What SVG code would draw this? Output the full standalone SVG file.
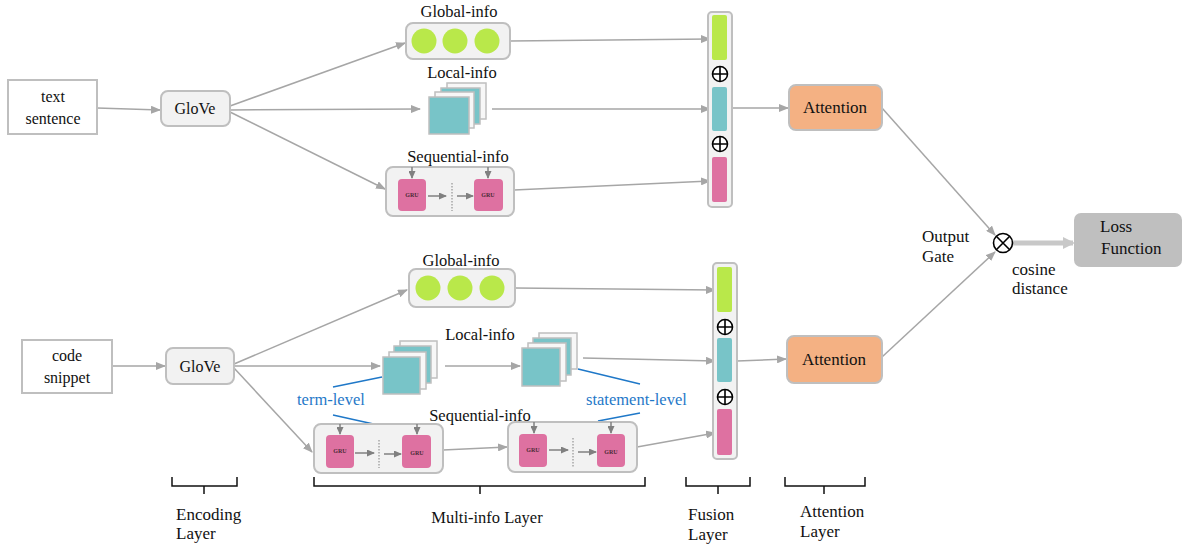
<svg xmlns="http://www.w3.org/2000/svg" width="1183" height="547" viewBox="0 0 1183 547" font-family="'Liberation Serif', 'DejaVu Serif', serif">
<defs>
<marker id="ah" markerUnits="userSpaceOnUse" markerWidth="10" markerHeight="8" refX="9" refY="4" orient="auto"><path d="M0,0 L10,4 L0,8 z" fill="#a6a6a6"/></marker>
<marker id="ahd" markerUnits="userSpaceOnUse" markerWidth="8" markerHeight="7" refX="7" refY="3.5" orient="auto"><path d="M0,0 L8,3.5 L0,7 z" fill="#808080"/></marker>
<marker id="ahb" markerUnits="userSpaceOnUse" markerWidth="12" markerHeight="12" refX="10" refY="6" orient="auto"><path d="M0,0 L12,6 L0,12 z" fill="#c8c8c8"/></marker>
</defs>
<style>
text{font-family:'Liberation Serif','DejaVu Serif',serif;fill:#111}
.box{fill:#f2f2f2;stroke:#bfbfbf;stroke-width:2}
.in{fill:#fff;stroke:#bfbfbf;stroke-width:2}
.con{stroke:#a6a6a6;stroke-width:1.5;fill:none}
.arr{marker-end:url(#ah)}
.g{fill:#b9e84a}
.t{fill:#78c4c8;stroke:#bfbfbf;stroke-width:1.5}
.w{fill:#f7f7f7;stroke:#bfbfbf;stroke-width:1.5}
.gru{fill:#de71a1}
.grut{font-size:6px;font-weight:bold;fill:#4a2a35;text-anchor:middle}
.dn{stroke:#808080;stroke-width:1.5;marker-end:url(#ahd)}
.dot{stroke:#808080;stroke-width:1;stroke-dasharray:1.5,1.5}
.lbl{font-size:16.5px;text-anchor:middle}
.blue{stroke:#1f78c8;stroke-width:1.5;fill:none}
.bt{fill:#1f78c8;font-size:16.5px}
.fb{fill:#f2f2f2;stroke:#bfbfbf;stroke-width:2}
.att{fill:#f4b183;stroke:#bfbfbf;stroke-width:2}
.brace{stroke:#111;stroke-width:1.5;fill:none}
.op{stroke:#000;stroke-width:1.6;fill:#fff}
.big{font-size:17px}
.inp{font-size:16px;text-anchor:middle}
</style>

<g id="connectors">
<line class="con arr" x1="97" y1="108" x2="160" y2="110"/>
<line class="con arr" x1="230" y1="106" x2="405" y2="43"/>
<line class="con arr" x1="230" y1="110" x2="420" y2="109"/>
<line class="con arr" x1="230" y1="112" x2="385" y2="189"/>
<line class="con arr" x1="510" y1="41" x2="710" y2="39"/>
<line class="con arr" x1="492" y1="109" x2="710" y2="109"/>
<line class="con arr" x1="514" y1="190" x2="710" y2="181"/>
<line class="con arr" x1="732" y1="108" x2="788" y2="108"/>
<line class="con arr" x1="882" y1="108" x2="995" y2="235"/>
<line class="con arr" x1="113" y1="366" x2="165" y2="366"/>
<line class="con arr" x1="234" y1="364" x2="407" y2="290"/>
<line class="con arr" x1="234" y1="366" x2="380" y2="366"/>
<line class="con arr" x1="234" y1="368" x2="312" y2="452"/>
<line class="con arr" x1="445" y1="366" x2="520" y2="366"/>
<line class="con arr" x1="515" y1="288" x2="715" y2="290"/>
<line class="con arr" x1="583" y1="358" x2="715" y2="361"/>
<line class="con arr" x1="443" y1="450" x2="507" y2="447"/>
<line class="con arr" x1="637" y1="447" x2="715" y2="433"/>
<line class="con arr" x1="737" y1="361" x2="786" y2="359"/>
<line class="con arr" x1="882" y1="357" x2="995" y2="252"/>
<line x1="1013" y1="243" x2="1073" y2="243" stroke="#c8c8c8" stroke-width="5" marker-end="url(#ahb)"/>
</g>

<g id="text-sentence"><rect class="in" x="8" y="80" width="89" height="54"/><text class="inp" x="53" y="102">text</text><text class="inp" x="53" y="124">sentence</text></g>
<g id="glove-top"><rect class="box" x="161" y="91" width="69" height="35" rx="7"/><text class="inp" x="195" y="114">GloVe</text></g>

<g id="global-top"><text class="lbl" x="459" y="17">Global-info</text><rect class="box" x="406" y="23" width="104" height="36" rx="7"/><circle class="g" cx="424" cy="41" r="12.5"/><circle class="g" cx="455" cy="41" r="12.5"/><circle class="g" cx="487" cy="41" r="12.5"/></g>

<g id="local-top"><text class="lbl" x="462" y="78">Local-info</text>
<rect class="w" x="447" y="83" width="39" height="36"/><rect class="t" x="441" y="88" width="39" height="36"/><rect class="w" x="435" y="92" width="39" height="36"/><rect class="t" x="429" y="97" width="40" height="37"/></g>

<g id="seq-top"><text class="lbl" x="458" y="162">Sequential-info</text><rect class="box" x="386" y="167" width="128" height="49" rx="7"/>
<rect class="gru" x="398" y="179" width="28" height="32" rx="4"/><text class="grut" x="412" y="197">GRU</text>
<rect class="gru" x="474" y="179" width="29" height="32" rx="4"/><text class="grut" x="488" y="197">GRU</text>
<line class="dn" x1="412" y1="167" x2="412" y2="178"/><line class="dn" x1="488" y1="167" x2="488" y2="178"/>
<line class="dn" x1="428" y1="196" x2="446" y2="196"/><line class="dot" x1="452" y1="183" x2="452" y2="211"/><line class="dn" x1="457" y1="196" x2="473" y2="196"/></g>

<g id="fusion-top"><rect class="fb" x="708" y="12" width="24" height="195" rx="4"/><rect class="g" x="712" y="15" width="15" height="45" rx="2"/><rect fill="#78c4c8" x="712" y="87" width="15" height="44" rx="2"/><rect class="gru" x="712" y="157" width="15" height="45" rx="2"/>
<circle class="op" cx="720" cy="74" r="7.5"/><path d="M720,66.5 V81.5 M712.5,74 H727.5" stroke="#000" stroke-width="1.6"/>
<circle class="op" cx="720" cy="144" r="7.5"/><path d="M720,136.5 V151.5 M712.5,144 H727.5" stroke="#000" stroke-width="1.6"/></g>

<g id="attention-top"><rect class="att" x="789" y="85" width="93" height="45" rx="7"/><text class="big" x="835" y="113" text-anchor="middle">Attention</text></g>

<g id="gate"><circle class="op" cx="1003" cy="243" r="9.5"/><path d="M996.3,236.3 L1009.7,249.7 M1009.7,236.3 L996.3,249.7" stroke="#000" stroke-width="1.6"/>
<text class="big" x="922" y="242">Output</text><text class="big" x="922" y="262">Gate</text>
<text class="big" x="1012" y="275">cosine</text><text class="big" x="1012" y="294">distance</text></g>

<g id="loss"><rect x="1074" y="213" width="108" height="54" rx="7" fill="#bfbfbf"/><text class="big" x="1100" y="232">Loss</text><text class="big" x="1101" y="254">Function</text></g>

<g id="code-snippet"><rect class="in" x="22" y="340" width="90" height="53"/><text class="inp" x="67" y="361">code</text><text class="inp" x="67" y="383">snippet</text></g>
<g id="glove-bottom"><rect class="box" x="166" y="348" width="68" height="36" rx="7"/><text class="inp" x="200" y="372">GloVe</text></g>

<g id="global-bottom"><text class="lbl" x="461" y="266">Global-info</text><rect class="box" x="409" y="269" width="106" height="38" rx="7"/><circle class="g" cx="428" cy="288" r="12.5"/><circle class="g" cx="460" cy="288" r="12.5"/><circle class="g" cx="492" cy="288" r="12.5"/></g>

<g id="local-bottom-1"><rect class="w" x="400" y="341" width="37" height="37"/><rect class="t" x="394" y="346" width="37" height="37"/><rect class="w" x="389" y="352" width="37" height="37"/><rect class="t" x="383" y="357" width="37" height="37"/></g>
<text class="lbl" x="480" y="340">Local-info</text>
<g id="local-bottom-2"><rect class="w" x="539" y="333" width="38" height="36"/><rect class="t" x="533" y="338" width="38" height="37"/><rect class="w" x="528" y="343" width="38" height="38"/><rect class="t" x="522" y="348" width="38" height="38"/></g>

<g id="term-level"><text class="bt" x="297" y="405">term-level</text><path class="blue" d="M333,387 L382,377 M333,415 L378,425"/></g>
<g id="statement-level"><text class="bt" x="586" y="405">statement-level</text><path class="blue" d="M578,369 L640,384 M598,421 L640,413"/></g>

<text class="lbl" x="480" y="421">Sequential-info</text>
<g id="seq-bottom-1"><rect class="box" x="314" y="424" width="129" height="49" rx="7"/>
<rect class="gru" x="326" y="435" width="28" height="33" rx="4"/><text class="grut" x="340" y="453">GRU</text>
<rect class="gru" x="402" y="435" width="29" height="33" rx="4"/><text class="grut" x="417" y="455">GRU</text>
<line class="dn" x1="340" y1="424" x2="340" y2="434"/><line class="dn" x1="417" y1="424" x2="417" y2="434"/>
<line class="dn" x1="355" y1="453" x2="374" y2="453"/><line class="dot" x1="379" y1="440" x2="379" y2="468"/><line class="dn" x1="384" y1="454" x2="401" y2="454"/></g>

<g id="seq-bottom-2"><rect class="box" x="508" y="422" width="129" height="50" rx="7"/>
<rect class="gru" x="519" y="434" width="28" height="33" rx="4"/><text class="grut" x="533" y="452">GRU</text>
<rect class="gru" x="597" y="434" width="28" height="33" rx="4"/><text class="grut" x="611" y="454">GRU</text>
<line class="dn" x1="534" y1="422" x2="534" y2="433"/><line class="dn" x1="611" y1="422" x2="611" y2="433"/>
<line class="dn" x1="549" y1="450" x2="568" y2="450"/><line class="dot" x1="573" y1="438" x2="573" y2="467"/><line class="dn" x1="578" y1="452" x2="596" y2="452"/></g>

<g id="fusion-bottom"><rect class="fb" x="713" y="263" width="24" height="196" rx="4"/><rect class="g" x="717" y="267" width="15" height="45" rx="2"/><rect fill="#78c4c8" x="717" y="338" width="15" height="44" rx="2"/><rect class="gru" x="717" y="409" width="15" height="46" rx="2"/>
<circle class="op" cx="725" cy="327" r="7.5"/><path d="M725,319.5 V334.5 M717.5,327 H732.5" stroke="#000" stroke-width="1.6"/>
<circle class="op" cx="725" cy="397" r="7.5"/><path d="M725,389.5 V404.5 M717.5,397 H732.5" stroke="#000" stroke-width="1.6"/></g>

<g id="attention-bottom"><rect class="att" x="787" y="336" width="95" height="47" rx="7"/><text class="big" x="834" y="365" text-anchor="middle">Attention</text></g>

<g id="layers">
<path class="brace" d="M172,477 V486 H237 V477 M204,486 V494"/>
<path class="brace" d="M314,477 V486 H645 V477 M480,486 V494"/>
<path class="brace" d="M686,477 V486 H750 V477 M718,486 V494"/>
<path class="brace" d="M785,477 V486 H865 V477 M824,486 V494"/>
<text class="big" x="176" y="520">Encoding</text><text class="big" x="176" y="539">Layer</text>
<text x="487" y="523" font-size="16.5" text-anchor="middle">Multi-info Layer</text>
<text class="big" x="688" y="520">Fusion</text><text class="big" x="688" y="540">Layer</text>
<text class="big" x="800" y="517">Attention</text><text class="big" x="800" y="537">Layer</text>
</g>
</svg>
